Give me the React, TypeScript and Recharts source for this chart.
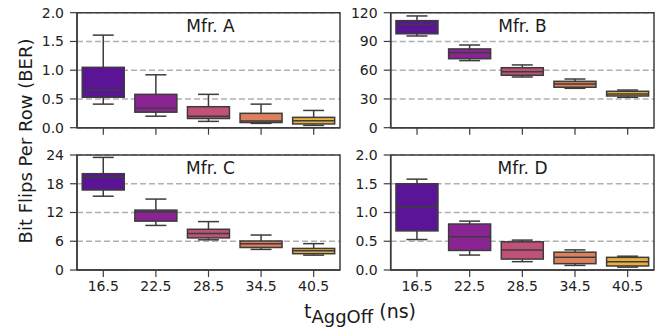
import { Bar, BarChart, CartesianGrid, ReferenceArea, XAxis, YAxis } from 'recharts';

// tAggOff values (ns)
const categories = ['16.5', '22.5', '28.5', '34.5', '40.5'];

// per box: [whisker low, Q1, median, Q3, whisker high]
const mfrAStats = [
    [0.41, 0.53, 0.655, 1.05, 1.61],
    [0.2, 0.27, 0.34, 0.58, 0.92],
    [0.11, 0.16, 0.2, 0.365, 0.58],
    [0.075, 0.09, 0.115, 0.25, 0.41],
    [0.04, 0.065, 0.12, 0.18, 0.3],
];
const mfrBStats = [
    [95.7, 98, 108, 111.7, 116.6],
    [70, 72, 78.3, 82.2, 86.3],
    [52.9, 54.7, 58.5, 62.6, 65.5],
    [41.1, 42.2, 45.6, 48.4, 50.8],
    [31.7, 33.1, 35.2, 38, 39.3],
];
const mfrCStats = [
    [15.4, 16.7, 19.4, 20.1, 23.5],
    [9.3, 10.2, 12.1, 12.5, 14.8],
    [6.3, 6.7, 7.6, 8.5, 10.1],
    [4.3, 4.7, 5.5, 6.05, 7.3],
    [3.1, 3.4, 4.0, 4.5, 5.5],
];
const mfrDStats = [
    [0.53, 0.68, 1.1, 1.5, 1.58],
    [0.26, 0.34, 0.58, 0.8, 0.85],
    [0.145, 0.19, 0.35, 0.49, 0.52],
    [0.08, 0.11, 0.22, 0.31, 0.35],
    [0.05, 0.07, 0.145, 0.22, 0.24],
];

const ticksA = [0, 0.5, 1, 1.5, 2];
const ticksB = [0, 30, 60, 90, 120];
const ticksC = [0, 6, 12, 18, 24];
const ticksD = [0, 0.5, 1, 1.5, 2];

const boxColors = ['#5c1496', '#8a2492', '#c0527a', '#de805c', '#e8ae3e'];
const edge = '#3c3c3c';
const font = '"DejaVu Sans", Verdana, sans-serif';

const toRows = (stats: number[][]) =>
    stats.map((s, i) => ({ cat: categories[i], min: s[0], q1: s[1], median: s[2], q3: s[3], max: s[4] }));

const BoxShape = (props: any) => {
    const { x, y, width, height, payload, index } = props;
    if (!payload) return null;
    const top = Math.min(y, y + height);
    const bottom = Math.max(y, y + height);
    const ppu = (bottom - top) / (payload.max - payload.min);
    const py = (v: number) => bottom - (v - payload.min) * ppu;
    const cx = x + width / 2;
    const capHalf = width / 4;
    return (
        <g>
            <line x1={cx} x2={cx} y1={py(payload.max)} y2={py(payload.q3)} stroke={edge} strokeWidth={1.5} />
            <line x1={cx} x2={cx} y1={py(payload.q1)} y2={py(payload.min)} stroke={edge} strokeWidth={1.5} />
            <line x1={cx - capHalf} x2={cx + capHalf} y1={py(payload.max)} y2={py(payload.max)} stroke={edge} strokeWidth={1.5} />
            <line x1={cx - capHalf} x2={cx + capHalf} y1={py(payload.min)} y2={py(payload.min)} stroke={edge} strokeWidth={1.5} />
            <rect
                x={x}
                y={py(payload.q3)}
                width={width}
                height={py(payload.q1) - py(payload.q3)}
                fill={boxColors[index % boxColors.length]}
                stroke={edge}
                strokeWidth={1.5}
            />
            <line x1={x} x2={x + width} y1={py(payload.median)} y2={py(payload.median)} stroke={edge} strokeWidth={1.5} />
        </g>
    );
};

function Panel({
    stats,
    ticks,
    width,
    height,
    top,
    yAxisWidth,
    xAxisHeight,
    showXLabels,
    fmt,
}: {
    stats: number[][];
    ticks: number[];
    width: number;
    height: number;
    top: number;
    yAxisWidth: number;
    xAxisHeight: number;
    showXLabels: boolean;
    fmt: (v: number) => string;
}) {
    const data = toRows(stats);
    const yMax = ticks[ticks.length - 1];
    return (
        <BarChart
            width={width}
            height={height}
            data={data}
            margin={{ top, right: 5, left: 0, bottom: 0 }}
            barCategoryGap="10%"
        >
            <CartesianGrid vertical={false} stroke="#b0b0b0" strokeDasharray="6 3" strokeWidth={1.4} />
            <XAxis
                dataKey="cat"
                height={xAxisHeight}
                tickSize={7}
                tickMargin={4}
                axisLine={{ stroke: edge, strokeWidth: 1.5 }}
                tickLine={{ stroke: edge, strokeWidth: 1.2 }}
                tick={{ fill: '#222', fontSize: 14, fontFamily: font }}
                tickFormatter={showXLabels ? undefined : () => ''}
                interval={0}
            />
            <YAxis
                width={yAxisWidth}
                domain={[0, yMax]}
                ticks={ticks}
                interval={0}
                tickSize={7}
                tickMargin={6}
                axisLine={{ stroke: edge, strokeWidth: 1.5 }}
                tickLine={{ stroke: edge, strokeWidth: 1.2 }}
                tick={{ fill: '#222', fontSize: 14, fontFamily: font }}
                tickFormatter={fmt}
            />
            <Bar dataKey={(d: any) => [d.min, d.max]} shape={BoxShape} isAnimationActive={false} />
            <ReferenceArea
                x1={categories[0]}
                x2={categories[categories.length - 1]}
                y1={0}
                y2={yMax}
                fill="none"
                stroke={edge}
                strokeWidth={1.5}
                strokeOpacity={1}
                ifOverflow="visible"
            />
        </BarChart>
    );
}

const oneDecimal = (v: number) => v.toFixed(1);
const integer = (v: number) => `${v}`;

export default function App() {
    return (
        <div
            style={{
                position: 'absolute',
                left: 0,
                top: 0,
                width: 659,
                height: 331,
                background: '#fff',
                fontFamily: font,
            }}
        >
            <div style={{ position: 'absolute', left: 0, top: 0 }}>
                <Panel stats={mfrAStats} ticks={ticksA} width={345} height={150} top={12.7} yAxisWidth={77} xAxisHeight={22.3} showXLabels={false} fmt={oneDecimal} />
            </div>
            <div style={{ position: 'absolute', left: 345, top: 0 }}>
                <Panel stats={mfrBStats} ticks={ticksB} width={314} height={150} top={12.7} yAxisWidth={45.7} xAxisHeight={22.3} showXLabels={false} fmt={integer} />
            </div>
            <div style={{ position: 'absolute', left: 0, top: 140 }}>
                <Panel stats={mfrCStats} ticks={ticksC} width={345} height={160} top={15} yAxisWidth={77} xAxisHeight={30} showXLabels={true} fmt={integer} />
            </div>
            <div style={{ position: 'absolute', left: 345, top: 140 }}>
                <Panel stats={mfrDStats} ticks={ticksD} width={314} height={160} top={15} yAxisWidth={45.7} xAxisHeight={30} showXLabels={true} fmt={oneDecimal} />
            </div>
            <svg
                width={659}
                height={331}
                style={{ position: 'absolute', left: 0, top: 0, pointerEvents: 'none' }}
                fontFamily={font}
                fill="#1a1a1a"
            >
                <text x={210.5} y={32} fontSize={17} textAnchor="middle">Mfr. A</text>
                <text x={522.5} y={32} fontSize={17} textAnchor="middle">Mfr. B</text>
                <text x={210.5} y={174} fontSize={17} textAnchor="middle">Mfr. C</text>
                <text x={522.5} y={174} fontSize={17} textAnchor="middle">Mfr. D</text>
                <text x={32} y={141} fontSize={18} textAnchor="middle" transform="rotate(-90, 32, 141)">
                    Bit Flips Per Row (BER)
                </text>
                <text x={360} y={318} fontSize={19} textAnchor="middle">
                    t<tspan fontSize={18} dy={5}>AggOff</tspan>
                    <tspan dy={-5}> (ns)</tspan>
                </text>
            </svg>
        </div>
    );
}
